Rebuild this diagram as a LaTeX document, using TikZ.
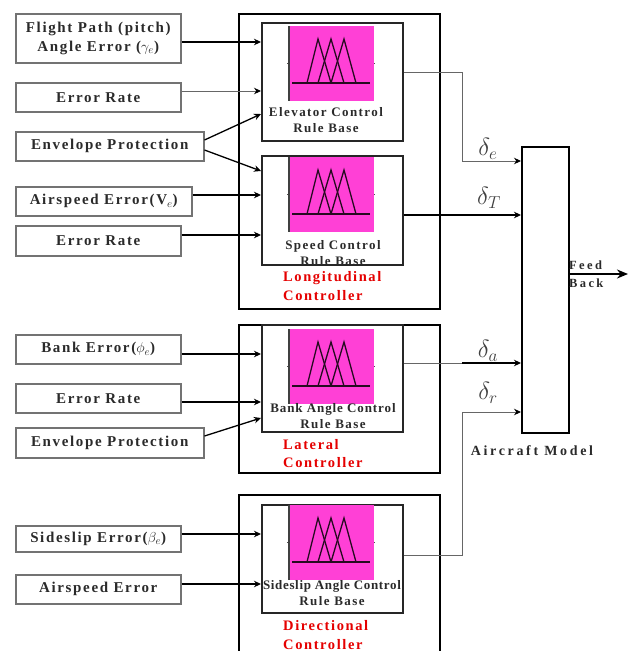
\documentclass[tikz,border=0pt]{standalone}
\usepackage{fontspec}
\setmainfont{Liberation Serif}[LetterSpace=11]
\newfontfamily\widefont{Liberation Serif}[LetterSpace=19]
\newfontfamily\tightfont{Liberation Serif}[LetterSpace=5]
\newfontfamily\midfont{Liberation Serif}[LetterSpace=7]
\usetikzlibrary{arrows.meta}
\definecolor{pinkfill}{HTML}{FF40D6}
\definecolor{inkgray}{HTML}{2A2A2A}
\tikzset{
  inbox/.style={draw=black!55,line width=1.5pt,anchor=north west,inner sep=0pt,align=center,text=inkgray,font=\fontsize{15}{19}\selectfont\bfseries},
  outerbox/.style={draw=black,line width=2.2pt,anchor=north west,inner sep=0pt},
  rulebox/.style={draw=black!85,line width=1.5pt,anchor=north west,inner sep=0pt},
  pinkbox/.style={draw=none,fill=pinkfill,anchor=north west,inner sep=0pt,minimum width=85pt,minimum height=75pt},
  rulelabel/.style={align=center,inner sep=0pt,text=inkgray,font=\fontsize{13}{16}\selectfont\bfseries},
  redlabel/.style={anchor=west,align=left,inner sep=0pt,text=red!90!black,font=\fontsize{14.5}{18.5}\selectfont\bfseries},
  arr/.style={-{Stealth[length=7pt,width=6.5pt]},line width=1.3pt,draw=black},
  arrthin/.style={-{Stealth[length=7pt,width=6.5pt,color=black]},line width=0.9pt,draw=black!60},
  mfline/.style={line width=1.3pt,draw=black!85!pinkfill},
  sym/.style={inner sep=0pt,text=black!75,font=\fontsize{23}{24}\selectfont},
}
\newcommand{\mfset}[2]{%
  \node[pinkbox] (#1) at (289,#2) {};
  \draw[line width=1.4pt,draw=black!75] (#1.north west) -- (#1.south west);
  \begin{scope}[shift={(288,#2)}]
    \draw[mfline] (4,57) -- (82,57);
    \draw[mfline] (19,57) -- (30,13) -- (43,57);
    \draw[mfline] (30,57) -- (43,13) -- (56,57);
    \draw[mfline] (43,57) -- (56,13) -- (68,57);
    \draw[line width=.5pt,draw=black!70] (-1,37) -- (0,37) (86,37) -- (87,37);
  \end{scope}}
\begin{document}
\begin{tikzpicture}[x=1pt,y=-1pt]
\useasboundingbox (0,0) rectangle (631,651);
% controllers
\node[outerbox,minimum width=201pt,minimum height=295pt] (longc) at (238,13) {};
\node[outerbox,minimum width=201pt,minimum height=148pt] (latc) at (238,324) {};
\node[outerbox,line width=1.6pt,minimum width=201pt,minimum height=158pt] (dirc) at (238,494) {};
% rule bases
\node[rulebox,minimum width=141pt,minimum height=118pt] (elev) at (261,22) {};
\node[rulebox,minimum width=141pt,minimum height=109pt] (speed) at (261,155) {};
\node[rulebox,minimum width=141pt,minimum height=107pt] (bank) at (261,324) {};
\node[rulebox,minimum width=141pt,minimum height=108pt] (side) at (261,504) {};
\mfset{pa}{26}
\mfset{pb}{157}
\mfset{pc}{329}
\mfset{pd}{505}
% inputs
\node[inbox,minimum width=165pt,minimum height=49pt] (i1) at (15,13) {Flight Path (pitch)\\Angle Error ($\gamma_e$)};
\node[inbox,minimum width=165pt,minimum height=29pt] (i2) at (15,82) {Error Rate};
\node[inbox,minimum width=188pt,minimum height=29pt] (i3) at (15,131) {Envelope Protection};
\node[inbox,minimum width=176pt,minimum height=29pt] (i4) at (15,186) {Airspeed Error(V$_{e}$)};
\node[inbox,minimum width=165pt,minimum height=30pt] (i5) at (15,225) {Error Rate};
\node[inbox,minimum width=165pt,minimum height=29pt] (i6) at (15,334) {Bank Error($\phi_e$)};
\node[inbox,minimum width=165pt,minimum height=29pt] (i7) at (15,383) {Error Rate};
\node[inbox,minimum width=188pt,minimum height=30pt] (i8) at (15,427) {Envelope Protection};
\node[inbox,minimum width=165pt,minimum height=26pt] (i9) at (15,525) {Sideslip Error($\beta_e$)};
\node[inbox,minimum width=165pt,minimum height=29pt] (i10) at (15,574) {Airspeed Error};
% aircraft
\node[outerbox,minimum width=47pt,minimum height=286pt] (model) at (521,146) {};
\coordinate (fb) at (628,274);
% input connectors
\draw[arr] (i1.east |- 0,42) -- (elev.west |- 0,42);
\draw[arrthin] (i2.east |- 0,91) -- (elev.west |- 0,91);
\draw[arr] (i3.east |- 0,140) -- (elev.west |- 0,114);
\draw[arr] (i3.east |- 0,150) -- (speed.west |- 0,171);
\draw[arr] (i4.east |- 0,195) -- (speed.west |- 0,195);
\draw[arr] (i5.east |- 0,235) -- (speed.west |- 0,235);
\draw[arr] (i6.east |- 0,354) -- (bank.west |- 0,354);
\draw[arr] (i7.east |- 0,402) -- (bank.west |- 0,402);
\draw[arr] (i8.east |- 0,436) -- (bank.west |- 0,418);
\draw[arr] (i9.east |- 0,534) -- (side.west |- 0,534);
\draw[arr] (i10.east |- 0,584) -- (side.west |- 0,584);
% output connectors
\draw[arrthin] (elev.east |- 0,72) -| (462,161) -- (model.west |- 0,161);
\draw[arr,line width=1.7pt] (speed.east |- 0,215) -- (model.west |- 0,215);
\draw[line width=.9pt,draw=black!60] (bank.east |- 0,363) -- (462,363);
\draw[arr] (462,363) -- (model.west |- 0,363);
\draw[arrthin] (side.east |- 0,555) -| (462,412) -- (model.west |- 0,412);
\draw[-{Stealth[length=11pt,width=9pt]},line width=2.4pt] (model.east |- fb) -- (fb);
% labels
\node[rulelabel] (l1) at (326,120.5) {Elevator Control\\Rule Base};
\node[rulelabel] (l2) at (333,253) {Speed Control\\Rule Base};
\node[rulelabel] (l3) at (333,416) {{\midfont\bfseries Bank Angle Control}\\Rule Base};
\node[rulelabel] (l4) at (332,593) {{\tightfont\bfseries Sideslip Angle Control}\\Rule Base};
\draw[line width=1.5pt,draw=black!85] (speed.south west) -- (speed.south east);
\node[redlabel] (r1) at (283,286) {Longitudinal\\Controller};
\node[redlabel] (r2) at (283,453.5) {Lateral\\Controller};
\node[redlabel] (r3) at (283,635) {Directional\\Controller};
\node[inner sep=0pt,text=inkgray,font=\widefont\fontsize{14}{16}\selectfont\bfseries] (am) at (532,451) {Aircraft Model};
\node[anchor=west,align=left,inner sep=0pt,text=inkgray,font=\widefont\fontsize{12.5}{18}\selectfont\bfseries] (fbl) at (569,274) {Feed\\Back};
\node[sym] (de) at (488,149) {$\delta_e$};
\node[sym] (dt) at (489,198) {$\delta_T$};
\node[sym] (da) at (488,351) {$\delta_a$};
\node[sym] (dr) at (488,393) {$\delta_r$};
\end{tikzpicture}
\end{document}
